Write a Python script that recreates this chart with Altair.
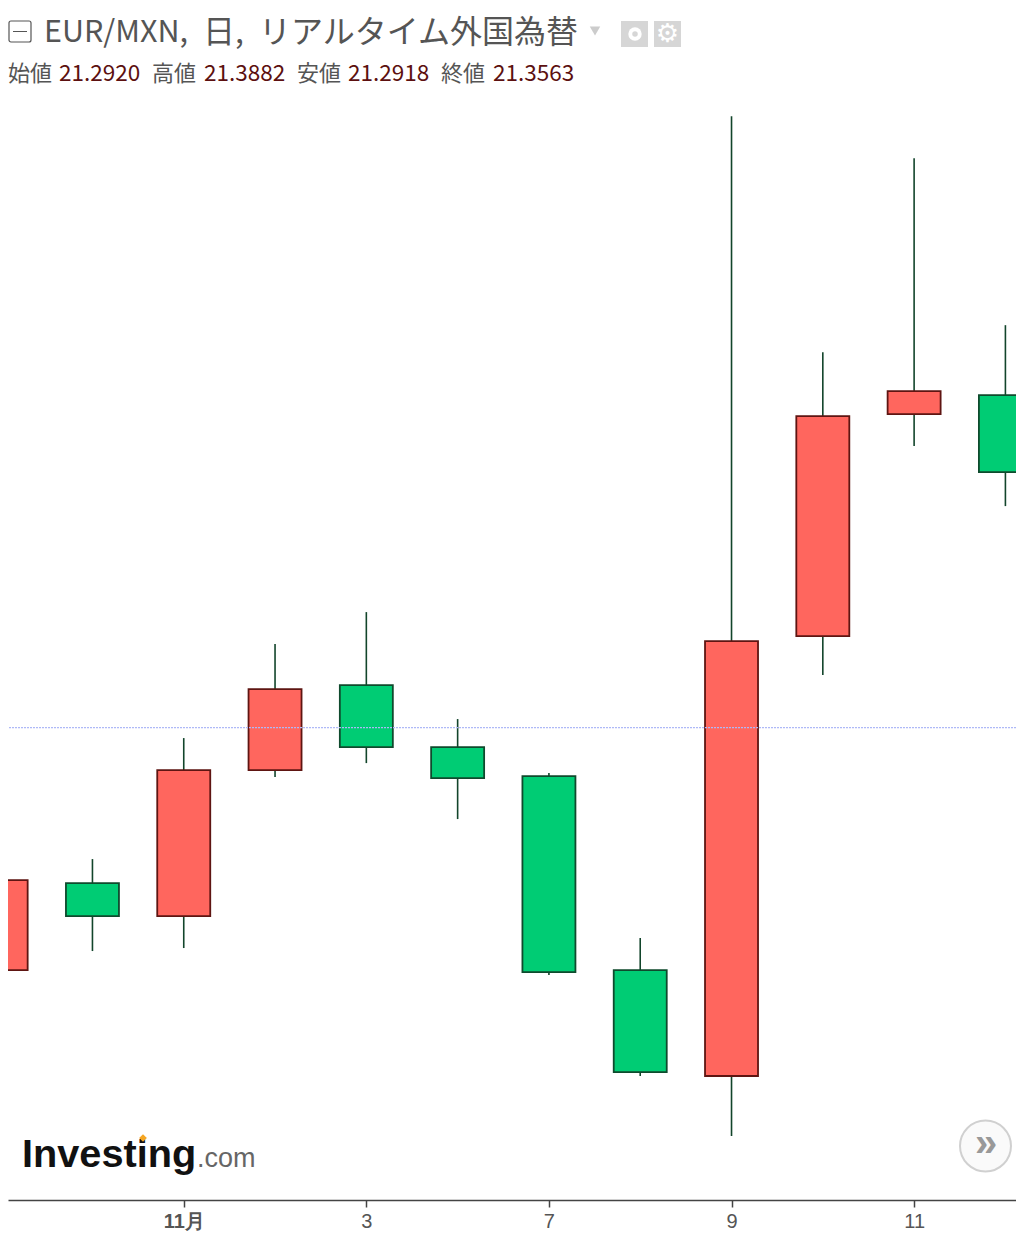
import altair as alt
import pandas as pd

dates = ["10/28", "10/31", "11/1", "11/2", "11/3", "11/4", "11/7", "11/8", "11/9", "11/10", "11/11", "11/14"]
opens = [20.9521, 21.0971, 21.0421, 21.2855, 21.4271, 21.3238, 21.2755, 20.9521, 20.7755, 21.5088, 21.8788, 21.9105]
highs = [21.1821, 21.1371, 21.3388, 21.4955, 21.5488, 21.3705, 21.2805, 21.0055, 22.3755, 21.9821, 22.3055, 22.0271]
lows = [20.9188, 20.9838, 20.9888, 21.2738, 21.2971, 21.2038, 20.9438, 20.7755, 20.6755, 21.4438, 21.8255, 21.7255]
closes = [21.1021, 21.0421, 21.2855, 21.4205, 21.3238, 21.2721, 20.9488, 20.7821, 21.5005, 21.8755, 21.9171, 21.7821]
tick_idx = [2, 4, 6, 8, 10]
tick_text = ["11月", "3", "7", "9", "11"]
last_price = 21.3563

df = pd.DataFrame({"i": range(len(dates)), "date": dates, "open": opens, "high": highs, "low": lows, "close": closes})
df["dir"] = ["up" if c > o else "down" for o, c in zip(opens, closes)]

xs = alt.Scale(domain=[0.075, 11.116], nice=False, zero=False, padding=0)
ys = alt.Scale(domain=[20.5688, 22.5558], nice=False, zero=False, padding=0)
W, H = 1008, 1192
JP = "Noto Sans CJK JP"
label_expr = "{" + ",".join(f"'{i}':'{t}'" for i, t in zip(tick_idx, tick_text)) + "}[datum.value]"

x_axis = alt.Axis(values=tick_idx, labelExpr=label_expr, title=None, grid=False, domainColor="#444444", domainWidth=1.5,
                  tickColor="#444444", tickSize=7, tickWidth=1.5, labelColor="#555555", labelFontSize=20,
                  labelFont="Liberation Sans", labelPadding=4, labelFlush=False, labelOverlap=False,
                  labelFontWeight=alt.ExprRef("datum.value==2?'bold':'normal'"))
x = alt.X("i:Q", scale=xs, axis=x_axis)
y_axis = None

wicks = alt.Chart(df).mark_rule(color="#12452b", strokeWidth=1.6, clip=True).encode(
    x=x, y=alt.Y("low:Q", scale=ys, axis=y_axis), y2="high:Q")
bodies = alt.Chart(df).mark_bar(size=53, strokeWidth=1.8, clip=True).encode(
    x=x, y=alt.Y("open:Q", scale=ys, axis=y_axis), y2="close:Q",
    color=alt.Color("dir:N", scale=alt.Scale(domain=["up", "down"], range=["#ff665e", "#00cc74"]), legend=None),
    stroke=alt.Stroke("dir:N", scale=alt.Scale(domain=["up", "down"], range=["#5e1512", "#0f4a2d"]), legend=None))
price_line = alt.Chart(pd.DataFrame({"p": [last_price]})).mark_rule(strokeWidth=1.2, strokeDash=[2, 1], opacity=1).encode(
    y=alt.Y("p:Q", scale=ys, axis=y_axis), color=alt.value("#aeb9f7"))

one = alt.Data(values=[{"a": 1}])
def txt(s, xp, yp, size, color, font=JP, weight="normal", align="left"):
    return alt.Chart(one).mark_text(text=s, fontSize=size, color=color, font=font, fontWeight=weight, align=align, baseline="middle").encode(
        x=alt.value(xp - 8), y=alt.value(yp - 8))
def rect(x1, x2, y1, y2, **kw):
    return alt.Chart(one).mark_rect(**kw).encode(x=alt.value(x1 - 8), x2=alt.value(x2 - 8), y=alt.value(y1 - 8), y2=alt.value(y2 - 8))
def pt(xp, yp, size, shape="circle", **kw):
    return alt.Chart(one).mark_point(shape=shape, size=size, **kw).encode(x=alt.value(xp - 8), y=alt.value(yp - 8))

deco = [
    rect(9, 31, 21, 42, fill="white", stroke="#555555", strokeWidth=1.2, cornerRadius=2),
    rect(13, 27, 31, 32, fill="#555555"),
    txt("EUR/MXN,", 44, 33, 30.5, "#555555"),
    txt("日,", 203, 33, 32, "#555555"),
    txt("リアルタイム外国為替", 259, 33, 32, "#555555"),
    pt(595, 31, 110, "triangle-down", filled=True, color="#cccccc", opacity=1),
    rect(621, 648, 21, 47, fill="#d6d6d6"),
    pt(635, 34, 180, filled=True, color="white", opacity=1),
    pt(635, 34, 30, filled=True, color="#d6d6d6", opacity=1),
    rect(654, 681, 21, 47, fill="#d6d6d6"),
    txt("⚙", 667.5, 34, 26, "white", font="DejaVu Sans", align="center"),
    txt("始値", 8, 74, 22, "#555555"),
    txt("21.2920", 59, 74, 22.5, "#5c1010"),
    txt("高値", 152, 74, 22, "#555555"),
    txt("21.3882", 204, 74, 22.5, "#5c1010"),
    txt("安値", 297, 74, 22, "#555555"),
    txt("21.2918", 348, 74, 22.5, "#5c1010"),
    txt("終値", 441, 74, 22, "#555555"),
    txt("21.3563", 493, 74, 22.5, "#5c1010"),
    txt("Investing", 22, 1155, 39.7, "#111111", font="Liberation Sans", weight="bold"),
    txt(".com", 197, 1159, 27, "#666666", font="Liberation Sans"),
    pt(143, 1138, 60, "diamond", filled=True, color="#f5a623", opacity=1),
    pt(985.5, 1146, 2600, fill="#fafafa", stroke="#d0d0d0", strokeWidth=2, opacity=1),
    txt("»", 986, 1144, 40, "#999999", font="Liberation Sans", weight="bold", align="center"),
]

chart = alt.layer(wicks, bodies, price_line, *deco).properties(
    width=W, height=H,
    padding={"left": 0, "top": 0, "right": 0, "bottom": 35},
    autosize=alt.AutoSizeParams(type="none"),
    background="white",
).configure_view(stroke=None)

chart.save("out.html", embed_options={"renderer": "svg", "actions": False})
